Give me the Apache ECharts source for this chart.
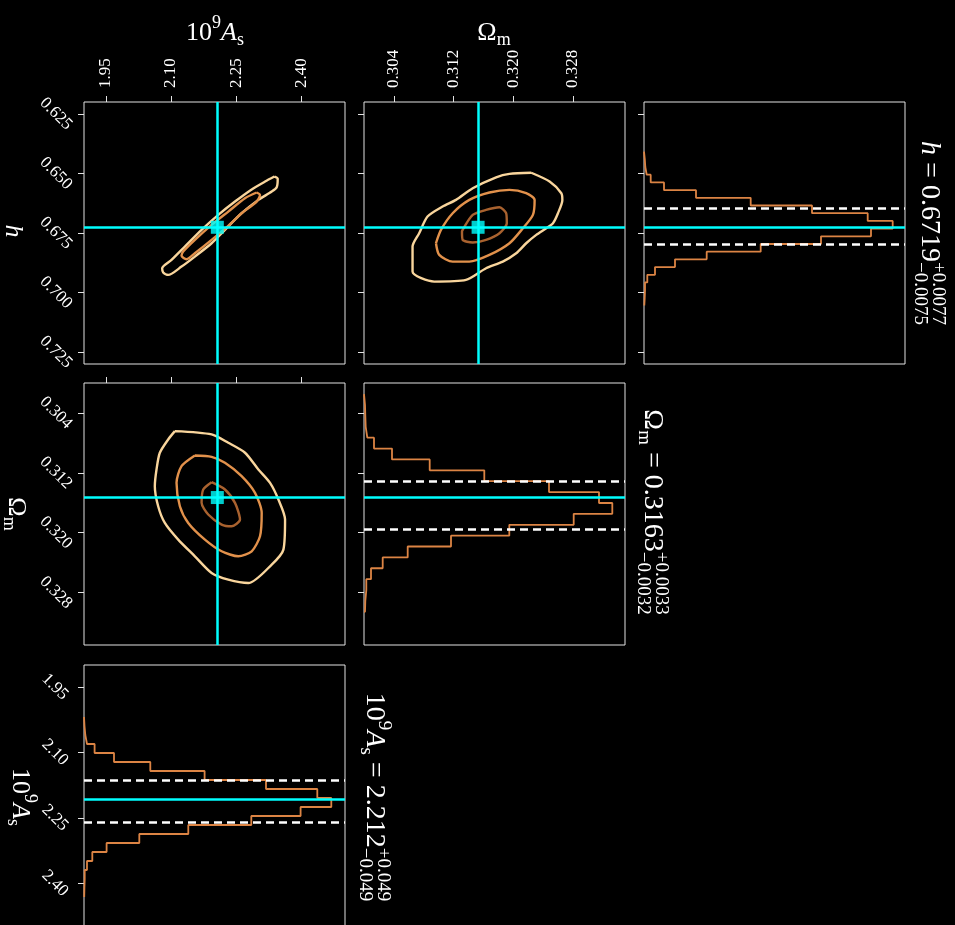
<!DOCTYPE html>
<html>
<head>
<meta charset="utf-8">
<script src="https://cdn.jsdelivr.net/npm/echarts@6/dist/echarts.min.js"></script>
<style>
html,body{margin:0;padding:0;background:#000;}
#chart{width:955px;height:925px;}
</style>
</head>
<body>
<div id="chart"></div>
<script>
// ---------------- data ----------------
const asRange = [1.90, 2.50];
const hRange = [0.620, 0.730];
const omRange = [0.300, 0.335];
const asTicks = [1.95, 2.10, 2.25, 2.40];
const hTicks = [0.625, 0.650, 0.675, 0.700, 0.725];
const omTicks = [0.304, 0.312, 0.320, 0.328];

const truthH = 0.6726, truthOm = 0.3153, truthAs = 2.2065;
const quantH = [0.6644, 0.6796];
const quantOm = [0.3131, 0.3196];
const quantAs = [2.163, 2.261];

// 1D histograms (bin edges, counts)
const hEdges = [0.64084,0.64407,0.64730,0.65053,0.65376,0.65700,0.66023,0.66346,0.66669,0.66992,0.67315,0.67638,0.67961,0.68284,0.68607,0.68931,0.69254,0.69577,0.69900,0.70223,0.70546];
const hCounts = [0.8,1.3,2.7,6.7,20,52,106.7,168,223.7,248.7,227,177,116.7,62.7,31,11,3.3,1,0.7,0.3];
const omEdges = [0.30149,0.30294,0.30439,0.30585,0.30730,0.30876,0.31021,0.31167,0.31312,0.31457,0.31603,0.31748,0.31894,0.32039,0.32184,0.32330,0.32475,0.32621,0.32766,0.32912,0.33057];
const omCounts = [1.0,1.3,1.7,3.3,10,28,65.7,120.3,185,235,248.3,209.7,145.3,87,43.7,18.7,7,2.3,1.3,1.0];
const asEdges = [2.0191,2.0397,2.0603,2.0809,2.1015,2.1221,2.1427,2.1634,2.1840,2.2046,2.2252,2.2458,2.2664,2.2870,2.3076,2.3282,2.3488,2.3695,2.3901,2.4107,2.4313];
const asCounts = [0.5,1.3,3,10.6,30,66.3,120.6,182,233.3,247.3,216.6,167.3,104.3,55.3,22.6,8.3,3,0.7,0.4,0.2];

// 2D contours: As vs h
const ctrAsH_outer = [[2.3377,0.6513],[2.3453,0.6522],[2.3430,0.6558],[2.3315,0.6576],[2.3008,0.6611],[2.2624,0.6667],[2.2240,0.6737],[2.1933,0.6793],[2.1549,0.6849],[2.1242,0.6891],[2.0935,0.6926],[2.0820,0.6916],[2.0797,0.6898],[2.1012,0.6863],[2.1319,0.6807],[2.1703,0.6737],[2.2087,0.6674],[2.2471,0.6618],[2.2855,0.6567],[2.3162,0.6534],[2.3377,0.6513]];
const ctrAsH_mid = [[2.2970,0.6580],[2.3046,0.6590],[2.2970,0.6618],[2.2624,0.6667],[2.2317,0.6720],[2.1933,0.6779],[2.1549,0.6835],[2.1357,0.6860],[2.1242,0.6846],[2.1281,0.6828],[2.1549,0.6779],[2.1933,0.6716],[2.2317,0.6660],[2.2701,0.6604],[2.2970,0.6580]];
// Om vs h
const ctrOmH_outer = [[0.32243,0.6497],[0.32489,0.6534],[0.32646,0.6583],[0.32660,0.6611],[0.32601,0.6667],[0.32534,0.6709],[0.32444,0.6730],[0.32310,0.6758],[0.32175,0.6793],[0.32041,0.6835],[0.31861,0.6870],[0.31637,0.6898],[0.31368,0.6947],[0.30942,0.6954],[0.30651,0.6912],[0.30651,0.6807],[0.30740,0.6751],[0.30852,0.6681],[0.31054,0.6639],[0.31234,0.6611],[0.31458,0.6562],[0.31772,0.6516],[0.31951,0.6502],[0.32243,0.6497]];
const ctrOmH_mid = [[0.30965,0.6793],[0.31032,0.6737],[0.31189,0.6667],[0.31413,0.6611],[0.31682,0.6580],[0.31951,0.6569],[0.32175,0.6583],[0.32288,0.6611],[0.32265,0.6674],[0.32131,0.6730],[0.31951,0.6793],[0.31682,0.6842],[0.31413,0.6870],[0.31189,0.6870],[0.31009,0.6842],[0.30965,0.6793]];
const ctrOmH_in = [[0.31323,0.6737],[0.31458,0.6674],[0.31637,0.6653],[0.31817,0.6642],[0.31906,0.6667],[0.31915,0.6709],[0.31817,0.6751],[0.31637,0.6779],[0.31458,0.6790],[0.31323,0.6779],[0.31314,0.6744],[0.31323,0.6737]];
// As vs Om
const ctrAsOm_outer = [[2.1089,0.30643],[2.1933,0.30687],[2.2317,0.30799],[2.2701,0.30932],[2.3008,0.31155],[2.3277,0.31334],[2.3469,0.31557],[2.3622,0.31824],[2.3584,0.32226],[2.3315,0.32426],[2.2778,0.32672],[2.2317,0.32627],[2.1933,0.32538],[2.1549,0.32315],[2.1166,0.32092],[2.0858,0.31869],[2.0705,0.31646],[2.0628,0.31378],[2.0667,0.31155],[2.0743,0.30932],[2.0935,0.30754],[2.1089,0.30643]];
const ctrAsOm_mid = [[2.1549,0.30968],[2.1933,0.30986],[2.2240,0.31066],[2.2624,0.31245],[2.2931,0.31468],[2.3085,0.31735],[2.3046,0.32047],[2.2855,0.32248],[2.2547,0.32315],[2.2164,0.32248],[2.1780,0.32092],[2.1396,0.31869],[2.1204,0.31646],[2.1127,0.31334],[2.1242,0.31111],[2.1549,0.30968]];
const ctrAsOm_in = [[2.1933,0.31325],[2.2240,0.31423],[2.2471,0.31601],[2.2586,0.31824],[2.2394,0.31914],[2.2164,0.31891],[2.1856,0.31757],[2.1703,0.31601],[2.1741,0.31423],[2.1933,0.31325]];

const titleH = ['h', ' = 0.6719', '+0.0077', '\u22120.0075'];
const titleOm = ['\u03A9', 'm', ' = 0.3163', '+0.0033', '\u22120.0032'];
const titleAs = ['10', '9', 'A', 's', ' = 2.212', '+0.049', '\u22120.049'];

// ---------------- style ----------------
const FONT = "'Liberation Serif','DejaVu Serif',serif";
const FRAME = '#e2e2e2';
const CYAN = '#00ffff';
const C_OUT = '#f9d59c', C_MID = '#e2914b', C_IN = '#a9622f', C_HIST = '#dc8444';
const cols = [84, 364, 644], rows = [102, 383, 665], W = 261, H = 262;

const grids = [
  [0,0],[1,0],[2,0],[0,1],[1,1],[0,2]
].map(([c,r]) => ({left: cols[c], top: rows[r], width: W, height: H, show: true,
  borderColor: FRAME, borderWidth: 1, backgroundColor: 'transparent', containLabel: false, outerBoundsMode: 'none'}));

function fmt(d){ return v => Number(v).toFixed(d); }
function paramAxis(kind, gi, range, ticks, dec, showLabels, pos, lab){
  const isX = kind === 'x';
  const label = isX
    ? {rotate: -90, margin: 14}
    : {rotate: -45, align: 'center', verticalAlign: 'middle', margin: 28};
  return {
    gridIndex: gi, type: 'value', min: range[0], max: range[1], position: pos,
    inverse: !isX,
    axisLine: {show: false, onZero: false},
    splitLine: {show: false},
    axisTick: {show: true, inside: false, length: 6, customValues: ticks, lineStyle: {color: FRAME, width: 1}},
    axisLabel: Object.assign({show: showLabels, customValues: ticks, formatter: fmt(dec), color: '#ffffff',
      fontFamily: FONT, fontSize: 17, hideOverlap: false}, label, lab || {})
  };
}
function countAxis(gi){ return {gridIndex: gi, type: 'value', min: 0, max: 261, show: false, splitLine:{show:false}}; }

const xAxes = [
  paramAxis('x', 0, asRange, asTicks, 2, true, 'top'),
  paramAxis('x', 1, omRange, omTicks, 3, true, 'top'),
  countAxis(2),
  paramAxis('x', 3, asRange, asTicks, 2, false, 'top'),
  countAxis(4),
  countAxis(5)
];
const yAxes = [
  paramAxis('y', 0, hRange, hTicks, 3, true, 'left'),
  paramAxis('y', 1, hRange, hTicks, 3, false, 'left'),
  paramAxis('y', 2, hRange, hTicks, 3, false, 'left'),
  paramAxis('y', 3, omRange, omTicks, 3, true, 'left'),
  paramAxis('y', 4, omRange, omTicks, 3, false, 'left'),
  paramAxis('y', 5, asRange, asTicks, 2, true, 'left', {margin: 29})
];

function contour(idx, data, color){
  return {type: 'line', xAxisIndex: idx, yAxisIndex: idx, data: data, showSymbol: false, smooth: 0.25,
    lineStyle: {color: color, width: 2.4}, z: 2, silent: true, animation: false};
}
function stepData(edges, counts){
  const pts = [[0, edges[0]]];
  for (let i = 0; i < counts.length; i++) { pts.push([counts[i], edges[i]]); pts.push([counts[i], edges[i+1]]); }
  pts.push([0, edges[edges.length-1]]);
  return pts;
}
function hist(idx, edges, counts){
  return {type: 'line', xAxisIndex: idx, yAxisIndex: idx, data: stepData(edges, counts), showSymbol: false,
    lineStyle: {color: C_HIST, width: 1.8}, z: 2, silent: true, animation: false};
}
function mline(color, type, data){
  return {silent: true, symbol: ['none','none'], label: {show: false}, animation: false, precision: 8,
    lineStyle: {color: color, width: 2.5, type: type}, data: data};
}
function cross(idx, xv, yv){
  return [
    {type: 'line', xAxisIndex: idx, yAxisIndex: idx, data: [], z: 4, silent: true, animation: false,
      markLine: mline(CYAN, 'solid', [{xAxis: xv}, {yAxis: yv}])},
    {type: 'scatter', xAxisIndex: idx, yAxisIndex: idx, data: [[xv, yv]], symbol: 'rect', symbolSize: 13,
      itemStyle: {color: CYAN}, z: 5, silent: true, animation: false}
  ];
}
function histLines(idx, truth, q){
  return [
    {type: 'line', xAxisIndex: idx, yAxisIndex: idx, data: [], z: 3, silent: true, animation: false,
      markLine: mline('#ffffff', [8, 5], [{yAxis: q[0]}, {yAxis: q[1]}])},
    {type: 'line', xAxisIndex: idx, yAxisIndex: idx, data: [], z: 4, silent: true, animation: false,
      markLine: mline(CYAN, 'solid', [{yAxis: truth}])}
  ];
}

const series = [
  contour(0, ctrAsH_outer, C_OUT), contour(0, ctrAsH_mid, C_MID), ...cross(0, truthAs, truthH),
  contour(1, ctrOmH_outer, C_OUT), contour(1, ctrOmH_mid, C_MID), contour(1, ctrOmH_in, C_IN), ...cross(1, truthOm, truthH),
  hist(2, hEdges, hCounts), ...histLines(2, truthH, quantH),
  contour(3, ctrAsOm_outer, C_OUT), contour(3, ctrAsOm_mid, C_MID), contour(3, ctrAsOm_in, C_IN), ...cross(3, truthAs, truthOm),
  hist(4, omEdges, omCounts), ...histLines(4, truthOm, quantOm),
  hist(5, asEdges, asCounts), ...histLines(5, truthAs, quantAs)
];

// ---------------- text (math-like labels) ----------------
const mctx = document.createElement('canvas').getContext('2d');
function fontStr(s, it){ return (it ? 'italic ' : '') + s + 'px ' + FONT; }
function richLabel(cx, cy, rot, segs){
  const kids = []; let x = 0; let held = 0;
  for (const s of segs) {
    const f = fontStr(s.s, s.it);
    mctx.font = f;
    const w = mctx.measureText(s.t).width;
    kids.push({type: 'text', x: x, y: s.dy || 0, silent: true,
      style: {text: s.t, font: f, fill: '#ffffff', align: 'left', verticalAlign: 'middle',
        textAlign: 'left', textVerticalAlign: 'middle'}});
    if (s.hold) { held = w; } else { x += Math.max(w, held); held = 0; }
  }
  kids.forEach(k => { k.x -= x / 2; });
  return {type: 'group', x: cx, y: cy, rotation: rot, children: kids};
}
const R = -Math.PI / 2;
const L = 26, T = 28, Ts = 19;
const asName = s => [{t:'10', s:s}, {t:'9', s:Math.round(s*0.7), dy:-s*0.38}, {t:'A', s:s, it:true}, {t:'s', s:Math.round(s*0.7), dy:s*0.28}];
const omName = s => [{t:'\u03A9', s:s}, {t:'m', s:Math.round(s*0.7), dy:s*0.28}];

const graphics = [
  richLabel(215, 33, 0, asName(L)),
  richLabel(494, 33, 0, omName(L)),
  richLabel(13, 231, R, [{t:'h', s:L, it:true}]),
  richLabel(16, 514, R, omName(L)),
  richLabel(20, 797, R, asName(L)),
  richLabel(929, 233, R, [{t:titleH[0], s:T, it:true}, {t:titleH[1], s:T},
    {t:titleH[2], s:Ts, dy:-9, hold:true}, {t:titleH[3], s:Ts, dy:9}]),
  richLabel(652, 512, R, [{t:titleOm[0], s:T}, {t:titleOm[1], s:Ts, dy:8}, {t:titleOm[2], s:T},
    {t:titleOm[3], s:Ts, dy:-9, hold:true}, {t:titleOm[4], s:Ts, dy:9}]),
  richLabel(374, 797, R, [{t:titleAs[0], s:T}, {t:titleAs[1], s:Ts, dy:-10}, {t:titleAs[2], s:T, it:true},
    {t:titleAs[3], s:Ts, dy:8}, {t:titleAs[4], s:T},
    {t:titleAs[5], s:Ts, dy:-9, hold:true}, {t:titleAs[6], s:Ts, dy:9}])
];

const chart = echarts.init(document.getElementById('chart'), null, {renderer: 'canvas'});
chart.setOption({
  backgroundColor: '#000000',
  animation: false,
  grid: grids,
  xAxis: xAxes,
  yAxis: yAxes,
  series: series,
  graphic: {elements: graphics}
});
</script>
</body>
</html>
